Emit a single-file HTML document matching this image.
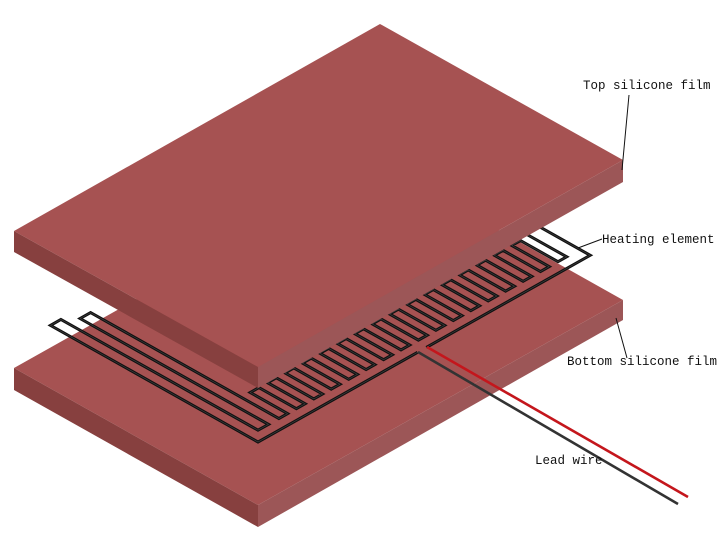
<!DOCTYPE html>
<html><head><meta charset="utf-8"><style>
html,body{margin:0;padding:0;background:#fff;width:720px;height:537px;overflow:hidden}
svg{display:block}
text{font-family:"Liberation Mono","Noto Serif CJK SC",monospace;font-size:12.5px;fill:#111}
</style></head><body>
<svg id="s" width="720" height="537" viewBox="0 0 720 537">
<polygon points="14,368 379,163 623,300 258,505" fill="#a65252"/>
<polygon points="14,368 258,505 258,527 14,390" fill="#87403f"/>
<polygon points="258,505 623,300 623,320 258,527" fill="#9c5657"/>
<path id="he" fill="none" stroke="#111" stroke-width="3" stroke-linejoin="miter"/>
<path id="he2" fill="none" stroke="#444" stroke-width="0.6"/>
<polygon points="14,231 380,24 623,160 258,367" fill="#a65252"/>
<polygon points="14,231 258,367 258,388 14,252" fill="#87403f"/>
<polygon points="258,367 623,160 623,182 258,388" fill="#9c5657"/>
<line x1="427" y1="347" x2="688" y2="497" stroke="#c4161c" stroke-width="2.6"/>
<line x1="418" y1="352" x2="678" y2="504" stroke="#333" stroke-width="2.6"/>
<line x1="629" y1="95" x2="622" y2="170" stroke="#111" stroke-width="1"/>
<line x1="578" y1="248" x2="602" y2="239" stroke="#111" stroke-width="1"/>
<line x1="616" y1="318" x2="627" y2="358" stroke="#111" stroke-width="1"/>
<text x="583" y="89">Top silicone film</text>
<text x="602" y="243">Heating element</text>
<text x="567" y="365">Bottom silicone film</text>
<text x="535" y="464">Lead wire</text>
</svg>
<script>
(function(){
var B=[258,442],u=[0.872,0.49],v=[0.872,-0.49];
function P(a,b){return (B[0]-a*u[0]+b*v[0]).toFixed(1)+","+(B[1]-a*u[1]+b*v[1]).toFixed(1);}
var pts=[];
pts.push(P(0,183));pts.push(P(0,0));
pts.push(P(238,0));pts.push(P(238,12));pts.push(P(12,12));pts.push(P(12,24));
pts.push(P(228,24));pts.push(P(228,36));pts.push(P(12,36));
var b=36;
while(b<345){b+=10;pts.push(P(12,b));pts.push(P(55,b));b+=10;pts.push(P(55,b));pts.push(P(12,b));}
b+=10;pts.push(P(12,b));pts.push(P(70,b));pts.push(P(70,381));pts.push(P(0,381));pts.push(P(0,193));
var d="M"+pts.join(" L");
document.getElementById("he").setAttribute("d",d);
document.getElementById("he2").setAttribute("d",d);
})();
</script>
</body></html>
